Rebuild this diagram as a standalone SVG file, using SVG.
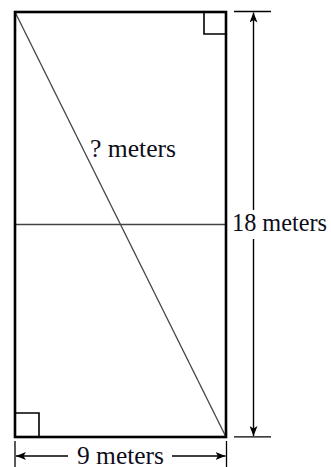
<svg xmlns="http://www.w3.org/2000/svg" width="331" height="467" viewBox="0 0 331 467">
<defs>
<marker id="ah" viewBox="0 0 10 8" refX="10" refY="4" markerWidth="10" markerHeight="8" markerUnits="userSpaceOnUse" orient="auto">
<path d="M0,0 L10,4 L0,8 L2.5,4 Z" fill="#000"/>
</marker>
<style>
.lbl{font-family:"Liberation Serif","Times New Roman",serif;font-size:25px;fill:#0d0d1a}
.thin{stroke:#444;stroke-width:1.3;fill:none}
.dim{stroke:#000;stroke-width:1.4;fill:none}
.tick{stroke:#000;stroke-width:1.3;fill:none}
.sq{stroke:#000;stroke-width:1.6;fill:none}
</style>
</defs>
<rect width="331" height="467" fill="#fff"/>
<g id="rectangle">
<line class="thin" x1="15" y1="12" x2="226" y2="437"/>
<line class="thin" x1="15" y1="224.5" x2="226" y2="224.5"/>
<rect x="15" y="12" width="211" height="425" fill="none" stroke="#000" stroke-width="2.6"/>
<polyline class="sq" points="204,12 204,34 226,34"/>
<polyline class="sq" points="15,413 39,413 39,437"/>
</g>
<g id="connectors">
<line class="tick" x1="234" y1="11.5" x2="271" y2="11.5"/>
<line class="tick" x1="234" y1="436.8" x2="271" y2="436.8"/>
<line class="dim" x1="253.5" y1="210" x2="253.5" y2="12.5" marker-end="url(#ah)"/>
<line class="dim" x1="253.5" y1="239" x2="253.5" y2="436" marker-end="url(#ah)"/>
<line class="tick" x1="15" y1="441" x2="15" y2="467"/>
<line class="tick" x1="226.5" y1="441" x2="226.5" y2="467"/>
<line class="dim" x1="68" y1="456" x2="16" y2="456" marker-end="url(#ah)"/>
<line class="dim" x1="172" y1="456" x2="225.5" y2="456" marker-end="url(#ah)"/>
</g>
<g id="labels">
<text class="lbl" x="90" y="156.5" textLength="86" lengthAdjust="spacingAndGlyphs">? meters</text>
<text class="lbl" x="232" y="230.5" textLength="95" lengthAdjust="spacingAndGlyphs">18 meters</text>
<text class="lbl" x="77" y="463.5" textLength="87" lengthAdjust="spacingAndGlyphs">9 meters</text>
</g>
</svg>
